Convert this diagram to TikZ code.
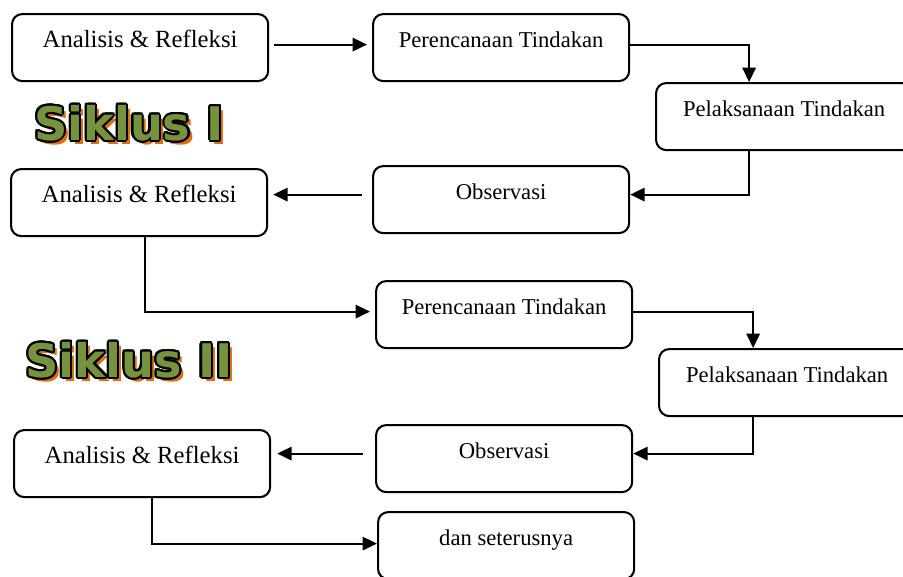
\documentclass[tikz,border=0pt]{standalone}
\usepackage{fontspec}
\setmainfont{Liberation Serif}
\newfontfamily\siklusfont{DejaVu Sans}
\usepackage{xcolor}
\usepackage{contour}
\usepackage{tikz}
\usetikzlibrary{arrows.meta}
\usetikzlibrary{calc}
\definecolor{hijau}{RGB}{118,146,60}
\definecolor{oranye}{RGB}{228,108,10}
\contourlength{1pt}
% judul siklus: bayangan oranye, isi hijau bergaris hitam
\newcommand{\judulsiklus}[1]{%
  \makebox[0pt][l]{\hspace{2pt}\raisebox{-2pt}{\color{oranye}#1}}%
  {\color{hijau}\contour{black}{#1}}}
\tikzset{
  langkah/.style = {draw=black, line width=1pt, rounded corners=5pt,
    anchor=north west, align=center, inner sep=0pt,
    minimum width=124.5pt, minimum height=32.6pt,
    text height=16.5pt, text depth=16.1pt,
    font=\fontsize{11}{13}\selectfont},% kotak langkah
  langkah_a/.style = {langkah, font=\fontsize{12}{14}\selectfont},% analisis
  panah/.style = {-{Triangle[length=7pt,width=6.5pt]}, line width=1pt},
  siklus/.style = {inner sep=0pt,
    font=\siklusfont\bfseries\fontsize{22.5}{22.5}\selectfont}% judul siklus
}

\begin{document}
\begin{tikzpicture}[x=0.486pt,y=-0.486pt]
\clip (0,0) rectangle (903,576);

% siklus I
\node [langkah_a] (a1) at (11,13) {Analisis \& Refleksi};
\node [langkah] (p1) at (372,13) {Perencanaan Tindakan};
\node [langkah] (l1) at (655,82) {Pelaksanaan Tindakan};
\node [langkah] (o1) at (372,165) {Observasi};
\node [langkah_a] (a2) at (10,168) {Analisis \& Refleksi};

% siklus II
\node [langkah] (p2) at (375,280) {Perencanaan Tindakan};
\node [langkah] (l2) at (658,348) {Pelaksanaan Tindakan};
\node [langkah] (o2) at (375,424) {Observasi};
\node [langkah_a] (a3) at (13,429) {Analisis \& Refleksi};
\node [langkah] (d) at (377,511) {dan seterusnya};

\node [siklus] (s1) at (129,125) {\judulsiklus{Siklus I}};
\node [siklus] (s2) at (129,362) {\judulsiklus{Siklus II}};

\draw [panah] ($(a1.east)+(5,-3)$) -- ($(p1.west)+(-5,-3)$);
\draw [panah] ($(p1.east)+(0,-3)$) -| ($(l1.north)+(-35,0)$);
\draw [panah] ($(l1.south)+(-35,0)$) |- ($(o1.east)+(0,-5)$);
\draw [panah] ($(o1.west)+(-10,-5)$) -- ($(a2.east |- o1.west)+(5,-5)$);
\draw [panah] ($(a2.south)+(6,0)$) |- ($(p2.west)+(-5,-3)$);
\draw [panah] ($(p2.east)+(0,-3)$) -| ($(l2.north)+(-34,0)$);
\draw [panah] ($(l2.south)+(-34,0)$) |- ($(o2.east)+(0,-5)$);
\draw [panah] ($(o2.west)+(-12,-5)$) -- ($(a3.east |- o2.west)+(6,-5)$);
\draw [panah] ($(a3.south)+(10,0)$) |- ($(d.west)+(0,-2)$);
\end{tikzpicture}
\end{document}
